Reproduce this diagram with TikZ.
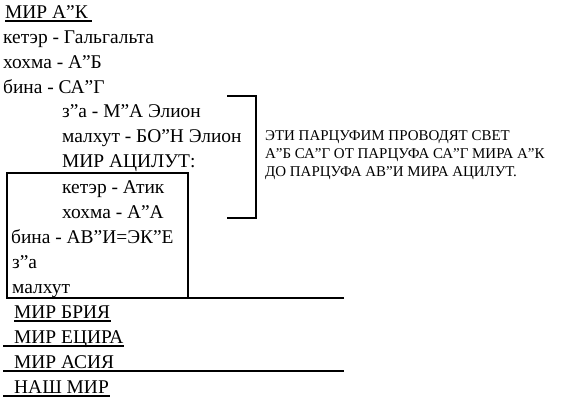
\documentclass[tikz,border=0pt]{standalone}
\usepackage{fontspec}
\setmainfont{Liberation Serif}
\usetikzlibrary{positioning}
\tikzset{
  txt/.style={anchor=base west,inner sep=0pt,font=\fontsize{19.5}{22}\selectfont},
  note/.style={anchor=base west,inner sep=0pt,align=left,
    font=\fontsize{15}{18}\selectfont},
  uline/.style={line width=1.1bp},
  frame/.style={line width=2bp},
}
\begin{document}
\begin{tikzpicture}[x=1bp,y=-1bp]
  \useasboundingbox (0,0) rectangle (571,400);
  % world A"K
  \node[txt] (ak) at (5,18) {МИР А”К};
  \node[txt] (akk) at (3,43) {кетэр - Гальгальта};
  \node[txt] (akh) at (3,68) {хохма - А”Б};
  \node[txt] (akb) at (3,93) {бина - СА”Г};
  \node[txt] (akz) at (62,117) {з”а - М”А Элион};
  \node[txt] (akm) at (62,142) {малхут - БО”Н Элион};
  % world Atzilut
  \node[txt] (az) at (62,167) {МИР АЦИЛУТ:};
  \node[txt] (azk) at (62,193) {кетэр - Атик};
  \node[txt] (azh) at (62,218) {хохма - А”А};
  \node[txt] (azb) at (11,243) {бина - АВ”И=ЭК”Е};
  \node[txt] (azz) at (12,268) {з”а};
  \node[txt] (azm) at (12,293) {малхут};
  % lower worlds
  \node[txt] (br) at (14,318) {МИР БРИЯ};
  \node[txt] (ye) at (14,343) {МИР ЕЦИРА};
  \node[txt] (as) at (14,368) {МИР АСИЯ};
  \node[txt] (ou) at (14,393) {НАШ МИР};
  % note
  \node[note] (nt) at (265,176)
    {ЭТИ ПАРЦУФИМ ПРОВОДЯТ СВЕТ\\
     А”Б СА”Г ОТ ПАРЦУФА СА”Г МИРА А”К\\
     ДО ПАРЦУФА АВ”И МИРА АЦИЛУТ.};

  % underlines
  \draw[uline] (ak.base west)++(0,3) -- ++(87,0);
  \draw[uline] (br.base west)++(0,3) -- ++(97,0);
  \draw[uline] (ye.base west)++(-11,3) -- ++(121,0);
  \draw[uline] (as.base west)++(-11,3) -- ++(112,0);
  \draw[frame] (as.base west)++(101,3) -- ++(229,0);
  \draw[uline] (ou.base west)++(-11,3) -- ++(107,0);

  % box and bracket
  \draw[frame] (344,298) -- (7,298) -- (7,173) -- (188,173) -- (188,298);
  \draw[frame] (227,96) -- (256,96) -- (256,218) -- (227,218);
\end{tikzpicture}
\end{document}
